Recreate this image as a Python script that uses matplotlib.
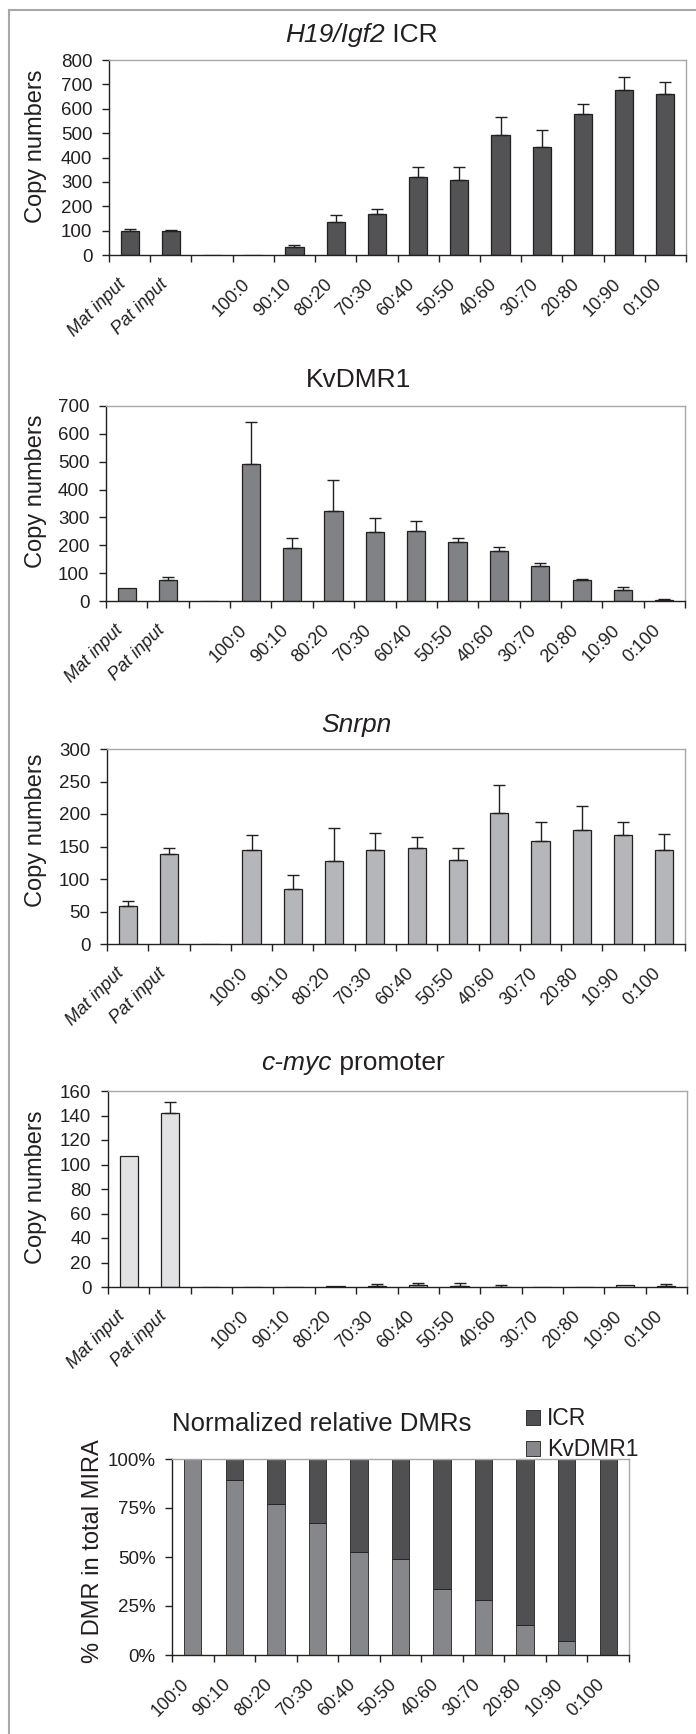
import numpy as np
import matplotlib
matplotlib.use("Agg")
import matplotlib.pyplot as plt
from matplotlib.patches import Patch
from matplotlib.lines import Line2D

plt.rcParams['font.family'] = ['Liberation Sans', 'DejaVu Sans']

W, H = 696, 1734
TEXT = '#231f20'
EDGE = '#231f20'
SOFT = '#a8a8a8'

# slot 3 is an empty gap between the inputs and the mixes
categories = ["Mat input", "Pat input", "", "100:0", "90:10", "80:20", "70:30",
              "60:40", "50:50", "40:60", "30:70", "20:80", "10:90", "0:100"]
mix_labels = ["100:0", "90:10", "80:20", "70:30", "60:40", "50:50",
              "40:60", "30:70", "20:80", "10:90", "0:100"]

icr_copies = [100, 100, 0, 0, 31, 134, 170, 321, 306, 492, 445, 577, 676, 659]
icr_err = [8, 4, 0, 0, 10, 30, 19, 39, 54, 74, 68, 44, 56, 50]

kv_copies = [45, 75, 0, 492, 191, 324, 246, 251, 212, 178, 127, 75, 41, 5]
kv_err = [0, 10, 0, 149, 35, 111, 52, 35, 14, 17, 8, 4, 8, 2]

snrpn_copies = [59, 138, 0, 144, 85, 127, 144, 147, 129, 201, 158, 175, 167, 144]
snrpn_err = [7, 9, 0, 23, 21, 51, 27, 18, 18, 44, 29, 37, 20, 25]

myc_copies = [107, 142, 0, 0, 0, 0.8, 0.8, 2.0, 0.8, 0.2, 0, 0, 1.9, 0.8]
myc_err = [0, 9, 0, 0, 0, 0, 1.9, 1.6, 2.7, 1.5, 0, 0, 0, 1.9]

kv_pct = [100, 89.4, 77.2, 67.6, 52.8, 49.1, 33.7, 27.9, 15.2, 7.3, 0]
icr_pct = [0, 10.6, 22.8, 32.4, 47.2, 50.9, 66.3, 72.1, 84.8, 92.7, 100]


def px_axes(fig, left, top, right, bottom):
    return fig.add_axes([left / W, 1 - bottom / H, (right - left) / W, (bottom - top) / H])


def style_axes(ax, labels, ymax, ystep, italic_first=0):
    n = len(labels)
    ax.set_xlim(-0.5, n - 0.5)
    ax.set_ylim(0, ymax)
    ax.set_yticks(np.arange(0, ymax + ystep / 2, ystep))
    ax.set_xticks(np.arange(n + 1) - 0.5)
    ax.set_xticklabels([])
    ax.set_xticks(np.arange(n), labels, minor=True, rotation=45, ha='right', va='top')
    ax.tick_params(axis='x', which='minor', length=0, pad=15, labelsize=13, labelcolor=TEXT)
    ax.tick_params(axis='x', which='major', length=5, width=1, color=EDGE, direction='out')
    ax.tick_params(axis='y', length=5, width=1, color=EDGE, labelsize=13.5, labelcolor=TEXT, pad=7)
    for lab in ax.get_xticklabels(minor=True)[:italic_first]:
        lab.set_style('italic')
    for side in ['left', 'bottom']:
        ax.spines[side].set_color(EDGE)
        ax.spines[side].set_linewidth(1)
    for side in ['top', 'right']:
        ax.spines[side].set_color(SOFT)
        ax.spines[side].set_linewidth(1)


def copy_panel(fig, box, values, errs, color, ymax, ystep, label_y):
    ax = px_axes(fig, *box)
    x = np.arange(len(categories))
    values = np.array(values, dtype=float)
    errs = np.array(errs, dtype=float)
    ax.bar(x, values, width=0.44, color=color, edgecolor=EDGE, linewidth=0.9, zorder=2)
    m = errs > 0
    ax.errorbar(x[m], values[m], yerr=[np.zeros(m.sum()), errs[m]], fmt='none',
                ecolor=EDGE, elinewidth=1, capsize=4.5, capthick=1, zorder=3)
    style_axes(ax, categories, ymax, ystep, italic_first=2)
    ax.set_ylabel('Copy numbers', fontsize=17, color=TEXT)
    left, top, right, bottom = box
    ax.yaxis.set_label_coords((47 - left) / (right - left), (bottom - label_y) / (bottom - top))
    return ax


def two_part_title(fig, x0, y, italic, normal, size=19):
    fig.text(x0 / W, 1 - y / H, italic, ha='right', va='center', style='italic',
             fontsize=size, color=TEXT)
    fig.text(x0 / W, 1 - y / H, normal, ha='left', va='center', fontsize=size, color=TEXT)


fig = plt.figure(figsize=(W / 100, H / 100), dpi=100)

# grey frame round the figure (only left and top edges show)
fig.add_artist(Line2D([9 / W, 9 / W], [0, 1 - 10 / H], color=SOFT, lw=1.5))
fig.add_artist(Line2D([9 / W, 1], [1 - 10 / H, 1 - 10 / H], color=SOFT, lw=1.5))

copy_panel(fig, (109, 60, 686, 255), icr_copies, icr_err, '#535355', 800, 100, 146)
two_part_title(fig, 385, 35, 'H19/Igf2', ' ICR')

copy_panel(fig, (106, 406, 685, 601), kv_copies, kv_err, '#818285', 700, 100, 491)
fig.text(358 / W, 1 - 380 / H, 'KvDMR1', ha='center', va='center', fontsize=19, color=TEXT)

copy_panel(fig, (107, 749, 685, 944), snrpn_copies, snrpn_err, '#b5b6b9', 300, 50, 830)
fig.text(356 / W, 1 - 725 / H, 'Snrpn', ha='center', va='center', style='italic',
         fontsize=19, color=TEXT)

copy_panel(fig, (108, 1091, 687, 1287), myc_copies, myc_err, '#e2e2e4', 160, 20, 1187)
two_part_title(fig, 332, 1063, 'c-myc', ' promoter')

# stacked percentage panel
box = (172, 1459, 629, 1655)
ax5 = px_axes(fig, *box)
x5 = np.arange(len(mix_labels))
ax5.bar(x5, kv_pct, width=0.42, color='#86878a', edgecolor=EDGE, linewidth=0.6, zorder=2)
ax5.bar(x5, icr_pct, bottom=kv_pct, width=0.42, color='#505052', edgecolor=EDGE,
        linewidth=0.6, zorder=2)
style_axes(ax5, mix_labels, 100, 25)
ax5.set_yticks(np.arange(0, 101, 25), [f'{v}%' for v in range(0, 101, 25)])
ax5.set_ylabel('% DMR in total MIRA', fontsize=17, color=TEXT)
ax5.yaxis.set_label_coords((104 - box[0]) / (box[2] - box[0]), (box[3] - 1551) / (box[3] - box[1]))
fig.text(322 / W, 1 - 1424 / H, 'Normalized relative DMRs', ha='center', va='center',
         fontsize=18.5, color=TEXT)

handles = [Patch(facecolor='#505052', edgecolor=EDGE, linewidth=0.6, label='ICR'),
           Patch(facecolor='#86878a', edgecolor=EDGE, linewidth=0.6, label='KvDMR1')]
fig.legend(handles=handles, loc='upper left', bbox_to_anchor=(515 / W, 1 - 1396 / H),
           frameon=False, fontsize=16.5, handlelength=0.6, handleheight=0.6,
           handletextpad=0.3, labelspacing=0.35, borderpad=0, labelcolor=TEXT)

fig.savefig('out.png', dpi=100)
